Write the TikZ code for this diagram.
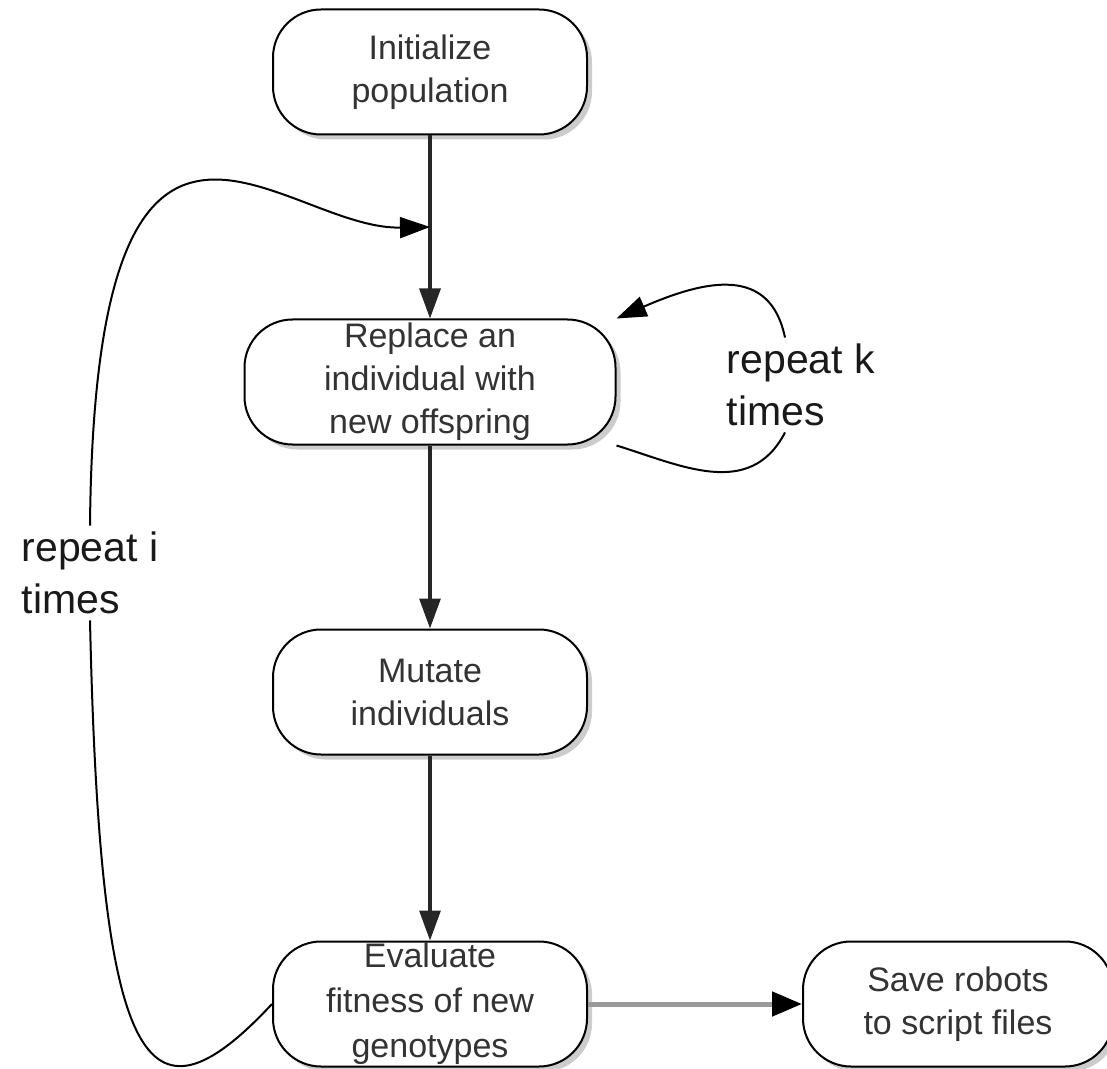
\documentclass[tikz,border=0pt]{standalone}
\usepackage{fontspec}
\setmainfont{Liberation Sans}
\usetikzlibrary{arrows.meta, positioning, calc, shadows}
\tikzset{
  procnode/.style={
    rectangle, draw=black, line width=1pt, rounded corners=24pt,
    minimum width=157pt, minimum height=62.5pt, inner sep=1pt,
    align=center, fill=white, text=black!80,
    font=\fontsize{17}{21.5}\selectfont,
    drop shadow={shadow xshift=2.5pt, shadow yshift=-2.5pt, opacity=0.4}
  },
  widenode/.style={procnode, minimum width=185.5pt},
  flow/.style={-{Triangle[length=15pt, width=10.5pt]}, line width=1.6pt, draw=black!85},
  loopedge/.style={line width=1pt},
  looptip/.style={-{Triangle[length=15pt, width=10.5pt]}},
  looplabel/.style={align=left, font=\fontsize{20.5}{26}\selectfont, inner sep=3pt, text=black!90}
}

\begin{document}
\begin{tikzpicture}[x=0.5pt, y=-0.5pt]
    \useasboundingbox (0,0) rectangle (1107,1069);
    \node[procnode] (init) at (430,72) {Initialize\\population};
    \node[widenode] (repl) at (430,382) {Replace an\\individual with\\new offspring};
    \node[procnode] (mut) at (430,692) {Mutate\\individuals};
    \node[procnode, font=\fontsize{17}{22.5}\selectfont, inner sep=0pt] (eval) at (430,1004) {Evaluate\\fitness of new\\genotypes};
    \node[procnode, minimum width=155pt] (save) at (958,1004) {Save robots\\to script files};
    \node[looplabel] (lblk) at (801,385) {repeat k\\times};
    \node[looplabel] (lbli) at (90,573) {repeat i\\times};
    \coordinate (join) at ($(init.south)!0.5!(repl.north)$);

    \draw[flow] (init) -- (repl);
    \draw[flow] (repl) -- (mut);
    \draw[flow] (mut) -- (eval);
    \draw[flow, draw=gray!80, line width=2.5pt, -{Triangle[length=15pt, width=12pt, color=black]}] (eval) -- (save);

    % inner loop
    \draw[loopedge] (repl.south east) .. controls (680,465) and (750,500) .. ([xshift=-8pt]lblk.south);
    \draw[loopedge, looptip] ([xshift=-8pt]lblk.north) .. controls (770,265) and (705,280) .. (repl.north east);
    % outer loop
    \draw[loopedge] (eval.west) .. controls (145,1140) and (100,1070) .. (lbli.south);
    \draw[loopedge, looptip] (lbli.north) .. controls (95,0) and (280,230) .. (join);
\end{tikzpicture}
\end{document}
